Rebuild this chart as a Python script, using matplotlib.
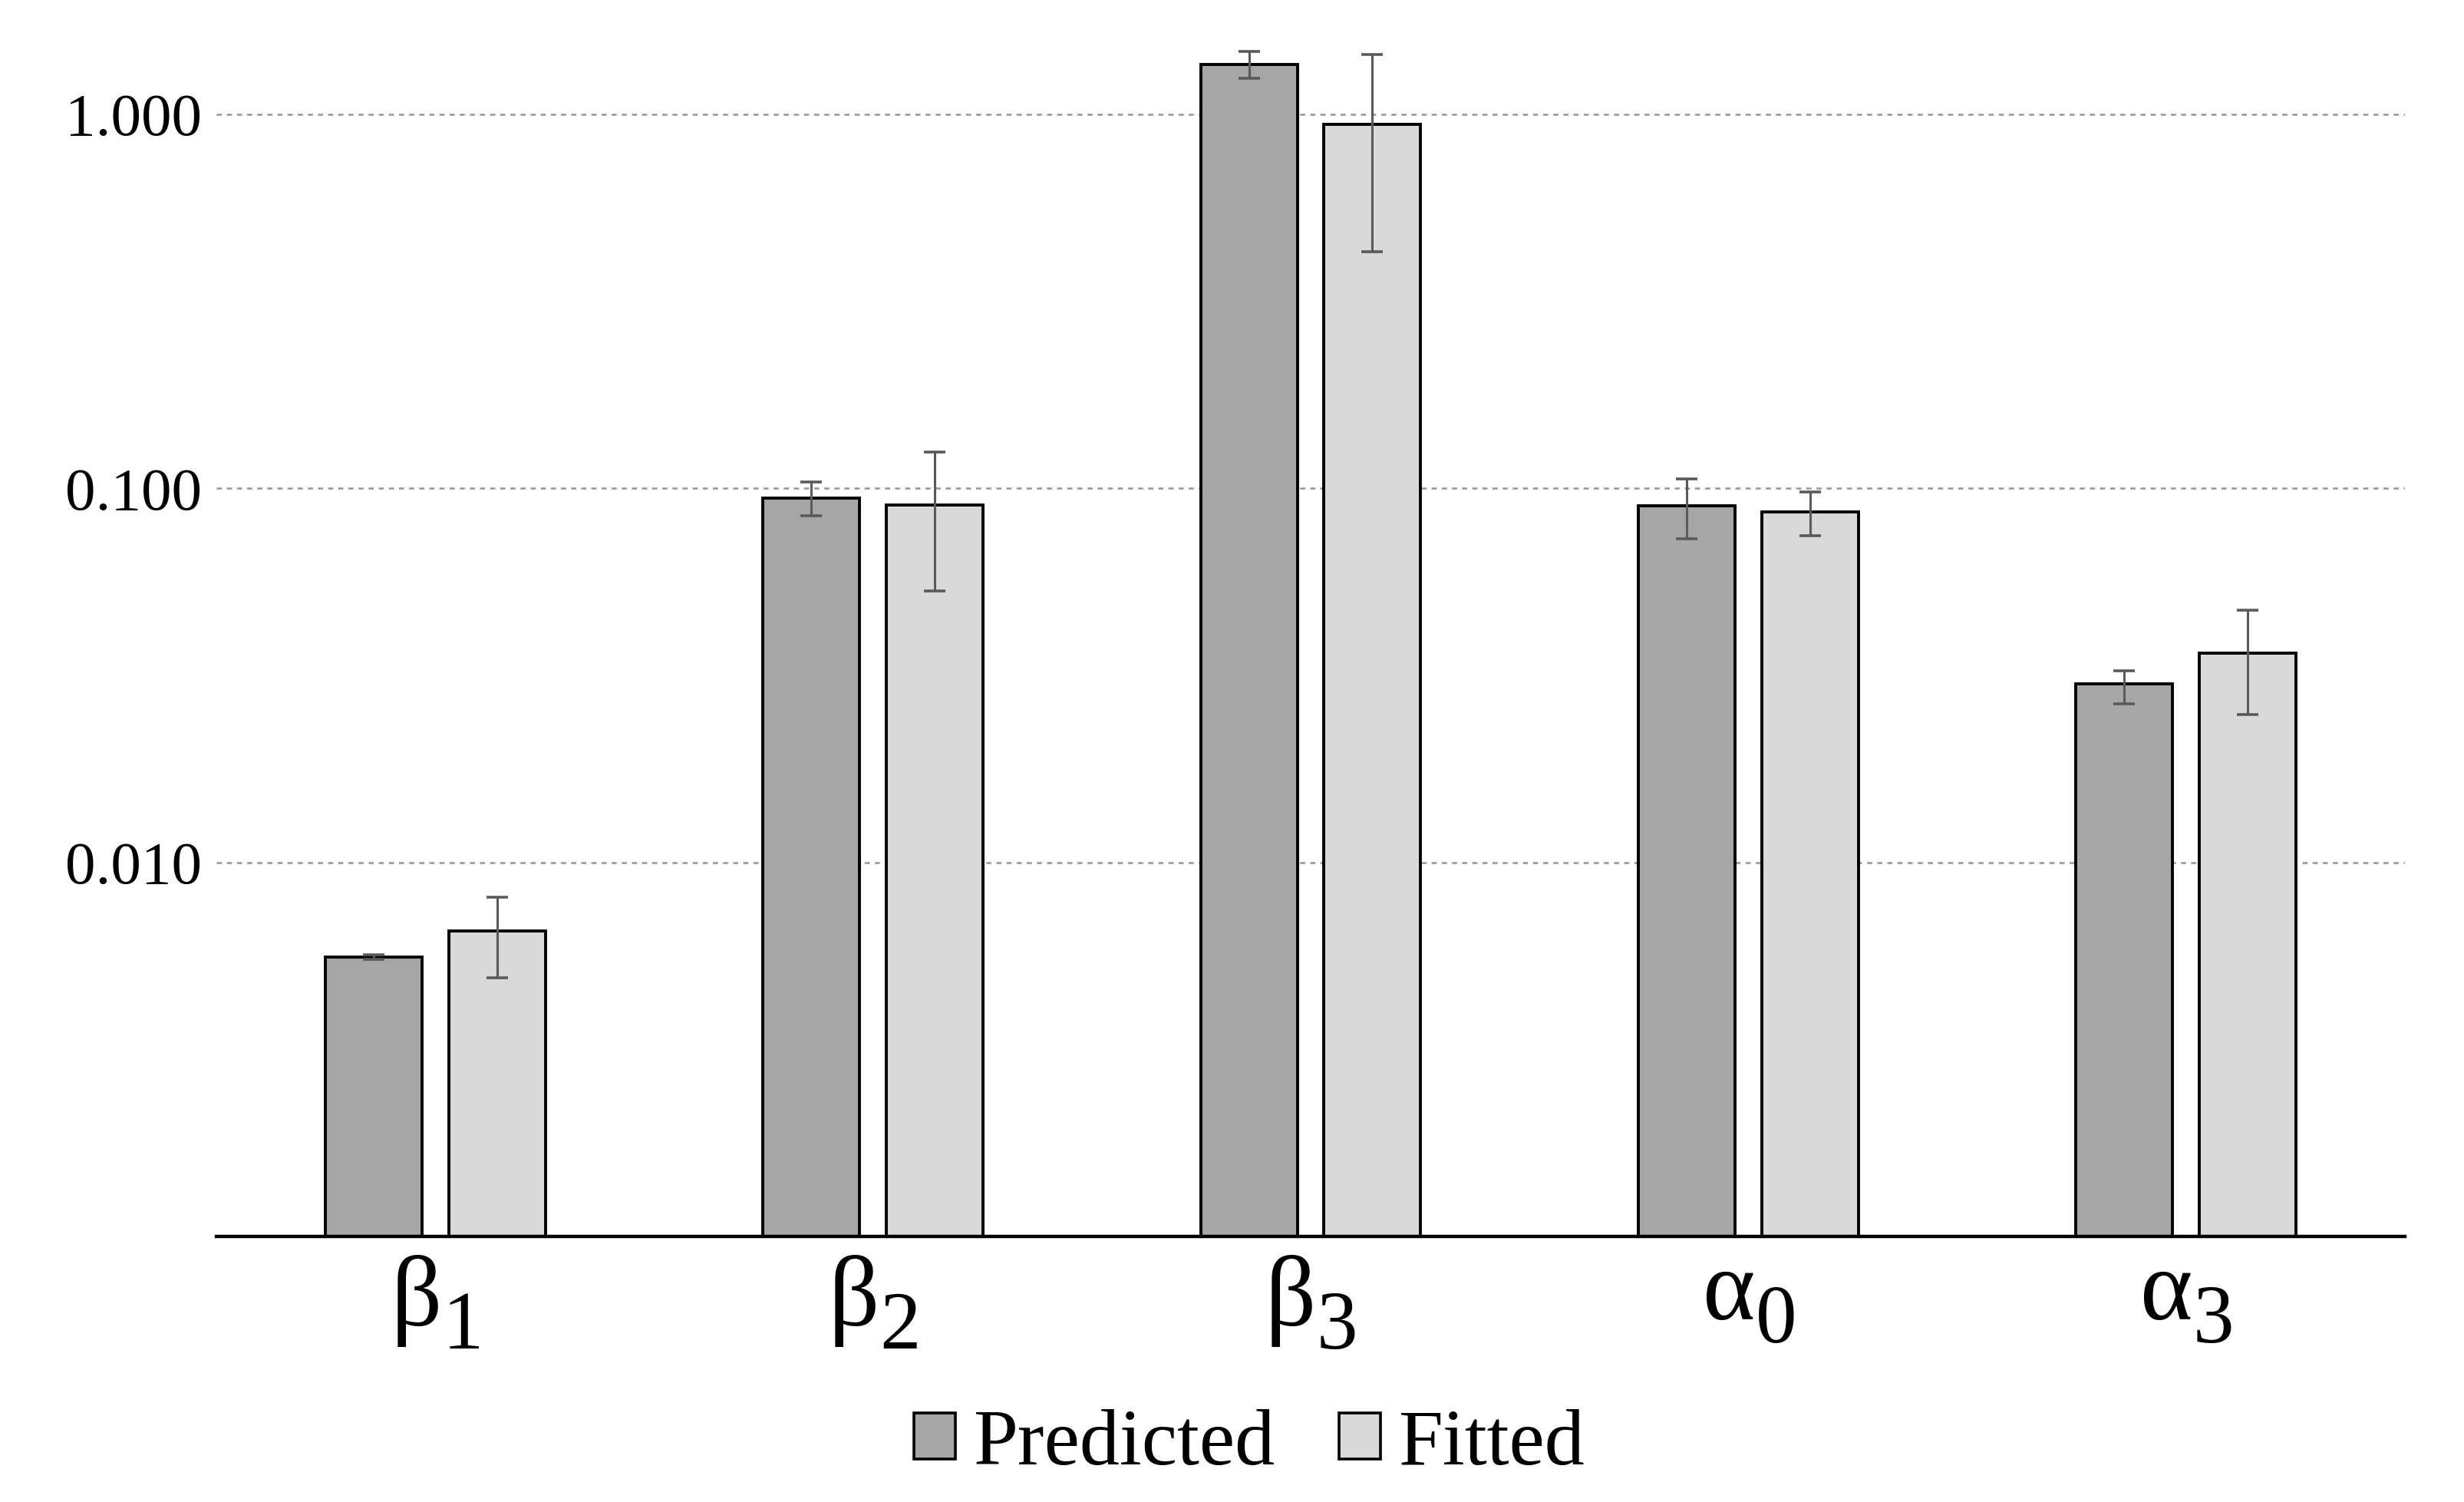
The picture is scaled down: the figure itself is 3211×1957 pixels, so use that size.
import matplotlib
matplotlib.use("Agg")
import matplotlib.pyplot as plt
import matplotlib._mathtext as _mt
import numpy as np
from matplotlib.patches import Patch

# slightly larger and lower subscripts, as in the reference
_mt.SHRINK_FACTOR = 0.82
_mt.FontConstantsBase.sub1 = 0.5

plt.rcParams['font.family'] = ['Liberation Serif', 'DejaVu Serif']
plt.rcParams['mathtext.fontset'] = 'custom'
plt.rcParams['mathtext.rm'] = 'Liberation Serif'
plt.rcParams['mathtext.it'] = 'Liberation Serif'
plt.rcParams['mathtext.bf'] = 'Liberation Serif:bold'

categories = [r'$\mathrm{β}_{1}$', r'$\mathrm{β}_{2}$', r'$\mathrm{β}_{3}$',
              r'$\mathrm{α}_{0}$', r'$\mathrm{α}_{3}$']
series_names = ['Predicted', 'Fitted']

predicted = [0.00558, 0.0941, 1.361, 0.0900, 0.0300]
predicted_lo = [0.00550, 0.0847, 1.249, 0.0733, 0.0265]
predicted_hi = [0.00566, 0.1041, 1.476, 0.1060, 0.0326]

fitted = [0.00657, 0.0902, 0.939, 0.0865, 0.0362]
fitted_lo = [0.00492, 0.0532, 0.429, 0.0748, 0.0249]
fitted_hi = [0.00807, 0.1250, 1.443, 0.0977, 0.0473]

ytick_values = [0.01, 0.1, 1.0]

colors = ['#a6a6a6', '#d9d9d9']

fig = plt.figure(figsize=(32.11, 19.57), dpi=100)
ax = fig.add_axes([282/3211, 1 - 1611/1957, (3134-282)/3211, (1611-20)/1957])

x = np.arange(len(categories))
width = 0.221
offset = 0.141

for vals, lo, hi, col, sgn, name in [
        (predicted, predicted_lo, predicted_hi, colors[0], -1, series_names[0]),
        (fitted, fitted_lo, fitted_hi, colors[1], 1, series_names[1])]:
    vals = np.array(vals); lo = np.array(lo); hi = np.array(hi)
    ax.bar(x + sgn*offset, vals, width=width, color=col, edgecolor='black',
           linewidth=2.8, zorder=2, label=name)
    ax.errorbar(x + sgn*offset, vals, yerr=[vals - lo, hi - vals], fmt='none',
                ecolor='#5a5a5a', elinewidth=2.2, capsize=10, capthick=2.6, zorder=3)

ax.set_yscale('log')
ax.set_ylim(0.001, 1.84)
ax.set_xlim(-0.5, len(categories) - 0.5)
ax.set_yticks(ytick_values)
ax.set_yticklabels(['%.3f' % v for v in ytick_values])
ax.yaxis.set_minor_locator(matplotlib.ticker.NullLocator())
ax.set_xticks(x)
ax.set_xticklabels(categories)
ax.tick_params(axis='y', length=0, pad=14, labelsize=57)
ax.tick_params(axis='x', length=0, pad=16, labelsize=94)

for s in ['top', 'right', 'left']:
    ax.spines[s].set_visible(False)
ax.spines['bottom'].set_linewidth(3.2)
ax.spines['bottom'].set_color('black')

ax.yaxis.grid(True, color='#9a9a9a', linestyle=(0, (2.5, 2.5)), linewidth=1.9)
ax.set_axisbelow(True)

handles = [Patch(facecolor=colors[0], edgecolor='black', linewidth=2.6),
           Patch(facecolor=colors[1], edgecolor='black', linewidth=2.6)]
fig.legend(handles, series_names, loc='center', bbox_to_anchor=(0.507, 0.038),
           ncol=2, frameon=False, fontsize=75, handlelength=0.52,
           handleheight=0.51, handletextpad=0.22, columnspacing=0.8)

fig.savefig('out.png', dpi=100, facecolor='white')
